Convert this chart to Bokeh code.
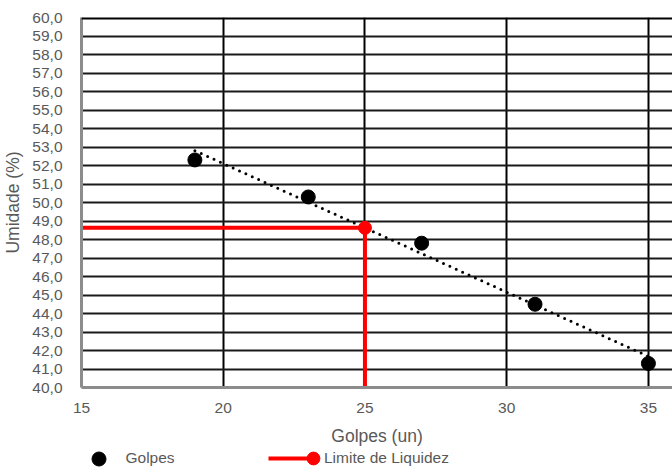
import numpy as np
from bokeh.plotting import figure
from bokeh.layouts import column
from bokeh.models import Range1d, Span, Legend, LegendItem, FixedTicker
from bokeh.embed import file_html
from bokeh.resources import INLINE

golpes = [19, 23, 27, 31, 35]
umidade = [52.3, 50.3, 47.8, 44.5, 41.3]
golpes_ll = 25
y_ticks = list(range(40, 61))
x_ticks = [15, 20, 25, 30, 35]

# linear trend (Excel-like)
coef = np.polyfit(golpes, umidade, 1)
trend_x = [min(golpes), max(golpes)]
trend_y = [float(np.polyval(coef, v)) for v in trend_x]
ll = float(np.polyval(coef, golpes_ll))

font = "Liberation Sans"
gray = "#595959"
red = "#ff0000"

p = figure(width=672, height=448, output_backend="svg", toolbar_location=None,
           x_range=Range1d(15, 35.85), y_range=Range1d(40, 60),
           min_border_left=80, min_border_right=0, min_border_top=17, min_border_bottom=59)
p.outline_line_color = None
p.background_fill_color = "white"

p.xaxis.ticker = FixedTicker(ticks=x_ticks)
p.yaxis.ticker = FixedTicker(ticks=y_ticks)
p.yaxis.major_label_overrides = {v: f"{v},0" for v in y_ticks}
for ax in (p.xaxis[0], p.yaxis[0]):
    ax.major_tick_line_color = None
    ax.minor_tick_line_color = None
    ax.axis_line_color = "#8c8c8c"
    ax.axis_line_width = 3
    ax.major_label_text_font = font
    ax.major_label_text_font_size = "15.5px"
    ax.major_label_text_color = gray
    ax.axis_label_text_font = font
    ax.axis_label_text_font_size = "17.5px"
    ax.axis_label_text_color = gray
    ax.axis_label_text_font_style = "normal"
p.xaxis.axis_label = "Golpes (un)"
p.yaxis.axis_label = "Umidade (%)"
p.xaxis.major_label_standoff = 9
p.xaxis.axis_label_standoff = 10
p.yaxis.major_label_standoff = 13
p.yaxis.axis_label_standoff = 6

p.xgrid.ticker = FixedTicker(ticks=x_ticks)
p.ygrid.ticker = FixedTicker(ticks=y_ticks)
p.xgrid.grid_line_color = "black"
p.xgrid.grid_line_width = 2
p.ygrid.grid_line_color = "#1a1a1a"
p.ygrid.grid_line_width = 2

p.add_layout(Span(location=60, dimension="width", line_color="black", line_width=4))

p.line(trend_x, trend_y, line_color="black", line_width=3, line_dash="0 7", line_cap="round")
p.line([15, golpes_ll, golpes_ll], [ll, ll, 40], line_color=red, line_width=4)
p.scatter([golpes_ll], [ll], size=13, color=red)
p.scatter(golpes, umidade, size=14, color="black")

# legend strip (its renderers hold the same data, kept out of view)
q = figure(width=672, height=20, output_backend="svg", toolbar_location=None,
           x_axis_type=None, y_axis_type=None,
           x_range=Range1d(0, 1), y_range=Range1d(0, 1),
           min_border_left=0, min_border_right=0, min_border_top=0, min_border_bottom=0)
q.outline_line_color = None
q.xgrid.visible = False
q.ygrid.visible = False
lg_pts = q.scatter(golpes, umidade, size=14, color="black")
lg_line = q.line([15, golpes_ll], [ll, ll], line_color=red, line_width=4)
lg_dot = q.scatter([golpes_ll], [ll], size=13, color=red)

off = 80  # frame of the strip is aligned with the chart's frame
common = dict(orientation="horizontal", background_fill_alpha=0, border_line_color=None,
              label_text_font=font, label_text_font_size="15.5px", label_text_color=gray,
              padding=0, margin=0)
q.add_layout(Legend(items=[LegendItem(label="Golpes", renderers=[lg_pts])],
                    location=(79.5 - off, -7.5), glyph_width=35, glyph_height=35,
                    label_standoff=10, **common), "center")
q.add_layout(Legend(items=[LegendItem(label="Limite de Liquidez", renderers=[lg_line])],
                    location=(267 - off, 1), glyph_width=46, glyph_height=18,
                    label_standoff=10, **common), "center")
q.add_layout(Legend(items=[LegendItem(label=" ", renderers=[lg_dot])],
                    location=(296 - off, -6), glyph_width=32, glyph_height=32,
                    label_standoff=0, **common), "center")

layout = column(p, q, spacing=0)
open("out.html", "w").write(file_html(layout, INLINE))
